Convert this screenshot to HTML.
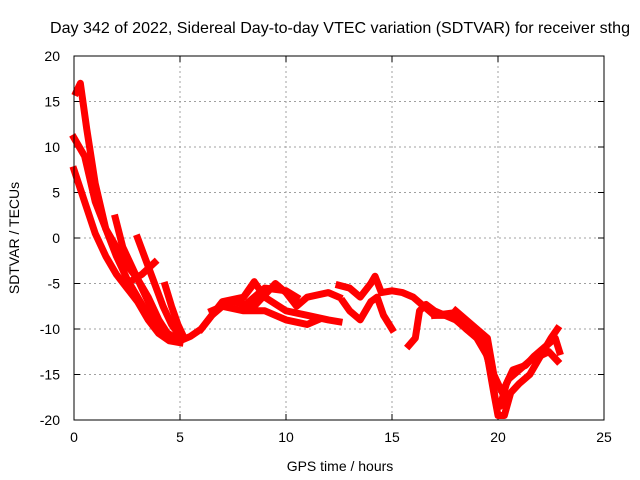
<!DOCTYPE html>
<html><head><meta charset="utf-8"><style>
body{margin:0;background:#fff}
svg{display:block;font-family:"Liberation Sans",sans-serif}
</style></head><body>
<svg id="chart" width="640" height="480">
<rect width="640" height="480" fill="#fff"/>
<text x="340" y="33" font-size="16" text-anchor="middle" fill="#000" textLength="580" lengthAdjust="spacingAndGlyphs">Day 342 of 2022, Sidereal Day-to-day VTEC variation (SDTVAR) for receiver sthg</text>
<text x="340" y="471" font-size="14" text-anchor="middle">GPS time / hours</text>
<text transform="translate(19,238) rotate(-90)" font-size="14" text-anchor="middle">SDTVAR / TECUs</text>
<g id="grid"></g><g id="series"></g>
<rect x="74" y="56" width="530" height="364" fill="none" stroke="#000" stroke-width="1"/>
</svg>
<script>
const xTicks=[0,5,10,15,20,25];
const yTicks=[20,15,10,5,0,-5,-10,-15,-20];
const s1=[[0.1,16],[0.3,17],[0.6,12],[1.0,6],[1.5,1],[2,-2],[2.5,-4.5],[3,-6.5],[3.5,-8.5],[4,-10],[4.5,-11],[5,-11.3],[5.5,-10.8],[6,-10],[6.5,-8.5],[7,-7.5],[7.5,-7],[8,-6.5],[8.5,-5]];
const s2=[[0,11],[0.5,9],[1,4],[1.5,1],[2,-1],[2.5,-3],[3,-4.5],[3.5,-6.5],[4,-9],[4.5,-10.8],[5,-11.2]];
const s3=[[0,7.5],[0.5,4],[1,0.5],[1.5,-2],[2,-4],[2.5,-5.5],[3,-7],[3.5,-9],[4,-10.5],[4.5,-11.3],[5,-11.5]];
const s4=[[1.95,2.2],[2.3,-1],[2.8,-3.5],[3.3,-6],[3.8,-8.5],[4.3,-10.3],[4.8,-11]];
const s5=[[3.0,0],[3.4,-2.5],[3.8,-5],[4.2,-7.5],[4.6,-9.5],[5,-10.8]];
const s6=[[4.3,-5.2],[4.6,-7.5],[4.9,-9.5],[5.2,-11]];
const s7=[[2.5,-5],[3.2,-4],[3.8,-2.7]];
const s8=[[6,-10],[7,-7],[8,-6.5],[8.5,-4.8],[9,-6.5],[10,-8],[11,-8.5],[12,-9],[12.5,-9.2]];
const s9=[[6.5,-8],[7.5,-7],[8.5,-7.5],[9.5,-5],[10,-6],[10.5,-7.5],[11,-6.5],[12,-6],[12.5,-6.5]];
const s10=[[7,-7.5],[8,-8],[9,-8],[10,-9],[11,-9.5],[11.5,-9]];
const s11=[[8,-7.5],[9,-5.5],[10,-5.8],[10.5,-6.5]];
const s12=[[12.5,-5.2],[13,-5.5],[13.5,-6.5],[14,-5],[14.2,-4.2],[14.5,-6],[15,-5.8],[15.5,-6],[16,-6.5],[16.5,-7.5],[17,-8.5],[18,-8.5]];
const s13=[[12.7,-7],[13,-8],[13.5,-9],[14,-7],[14.3,-6.5],[14.6,-8.5],[15,-10]];
const s14=[[15.8,-11.8],[16.1,-11],[16.3,-8],[16.6,-7.3],[17,-8],[18,-9],[18.5,-10],[19,-11],[19.5,-13],[19.8,-17],[20,-19.5],[20.3,-19.5],[20.6,-17],[21,-16],[21.5,-15],[22,-13],[22.5,-11],[22.8,-10]];
const s15=[[17,-8.5],[18,-8.2],[18.5,-10],[19.3,-11.5],[19.6,-14],[19.9,-18],[20.1,-18.5],[20.4,-16],[20.7,-14.5],[21.3,-14],[21.7,-13],[22.2,-12],[22.7,-11],[22.9,-12.5]];
const s16=[[18,-8],[19,-10],[19.5,-11],[19.8,-15],[20.2,-17],[20.5,-15.5],[21,-14.5],[21.5,-13.5],[22.4,-12.5],[22.8,-13.5]];
const allSeries=[s1,s2,s3,s4,s5,s6,s7,s8,s9,s10,s11,s12,s13,s14,s15,s16];
const NS="http://www.w3.org/2000/svg";
const X0=74,X1=604,Y0=420,Y1=56;
function xs(v){return X0+(v-0)/(25-0)*(X1-X0);}
function ys(v){return Y0-(v+20)/40*(Y0-Y1);}
const grid=document.getElementById('grid');
function addLine(x1,y1,x2,y2,stroke,dash,name){
  const l=document.createElementNS(NS,'line');
  l.setAttribute('x1',x1);l.setAttribute('x2',x2);l.setAttribute('y1',y1);l.setAttribute('y2',y2);
  l.setAttribute('stroke',stroke);if(dash)l.setAttribute('stroke-dasharray',dash);
  
  
  grid.appendChild(l);
}
xTicks.forEach(t=>{
  const x=xs(t);
  if(t>0&&t<25){addLine(x,Y1,x,Y0,'#a0a0a0','2,3','x-grid-line');
    addLine(x,Y0,x,Y0-6,'#000',null,'x-tick-mark');addLine(x,Y1,x,Y1+6,'#000',null,'x-tick-mark');}
  const tk=document.createElementNS(NS,'text');
  tk.setAttribute('x',x);tk.setAttribute('y',Y0+22);tk.setAttribute('font-size','14');tk.setAttribute('text-anchor','middle');
  tk.textContent=t;
  
  
  grid.appendChild(tk);
});
yTicks.forEach(t=>{
  const y=ys(t);
  if(t>-20&&t<20){addLine(X0,y,X1,y,'#a0a0a0','2,3','y-grid-line');
    addLine(X0,y,X0+6,y,'#000',null,'y-tick-mark');addLine(X1,y,X1-6,y,'#000',null,'y-tick-mark');}
  const tk=document.createElementNS(NS,'text');
  tk.setAttribute('x',X0-14);tk.setAttribute('y',y+5);tk.setAttribute('font-size','14');tk.setAttribute('text-anchor','end');
  tk.textContent=t;
  
  
  grid.appendChild(tk);
});
const sg=document.getElementById('series');
allSeries.forEach((s,i)=>{
  const p=document.createElementNS(NS,'polyline');
  p.setAttribute('points',s.map(d=>xs(d[0])+','+ys(d[1])).join(' '));
  p.setAttribute('fill','none');p.setAttribute('stroke','#ff0000');p.setAttribute('stroke-width','7');
  p.setAttribute('stroke-linejoin','round');p.setAttribute('stroke-linecap','square');
  
  
  sg.appendChild(p);
});
</script>
</body></html>
